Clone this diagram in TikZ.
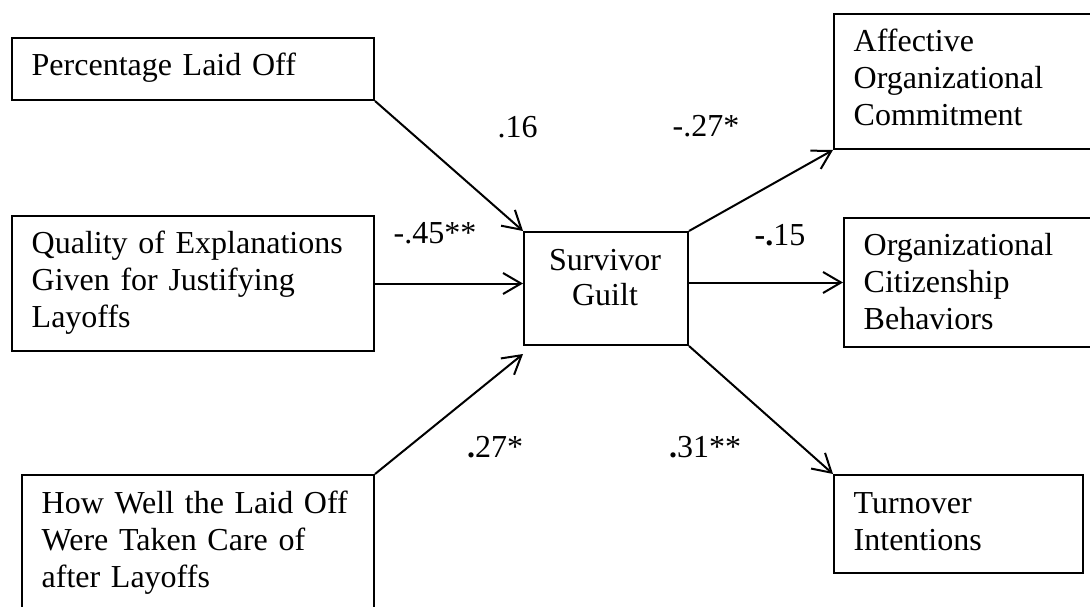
\documentclass[tikz,border=0pt]{standalone}
\usepackage{fontspec}
\setmainfont{Liberation Serif}
\usetikzlibrary{arrows.meta}
\begin{document}
\begin{tikzpicture}[x=1pt,y=-1pt,
  box/.style={draw, line width=2pt, anchor=north west, inner sep=0pt},
  txt/.style={anchor=base west, align=left, inner sep=0pt, text width=#1,
    font=\fontsize{32}{37}\selectfont},
  lab/.style={anchor=base, inner sep=0pt, font=\fontsize{32}{37}\selectfont},
  conn/.style={line width=2pt, -{Straight Barb[length=18pt,width=21pt,line width=2pt]}}]
\useasboundingbox (0,0) rectangle (1090,607);
\clip (0,0) rectangle (1090,607);

% left boxes
\node[box, minimum width=362pt, minimum height=62pt] (pct) at (11,37) {};
\node[txt=340pt] (pctT) at (31.5,76) {Percentage Laid Off};

\node[box, minimum width=362pt, minimum height=135pt] (qual) at (11,215) {};
\node[txt=340pt] (qualT) at (31.5,253) {Quality of Explanations\\Given for Justifying\\Layoffs};

\node[box, minimum width=352pt, minimum height=160pt] (how) at (21,474) {};
\node[txt=330pt] (howT) at (41.5,513) {How Well the Laid Off\\Were Taken Care of\\after Layoffs};

% centre
\node[box, minimum width=164pt, minimum height=113pt] (surv) at (523,231) {};
\node[lab, align=center] (survT) at (605,270) {Survivor};
\node[lab] (survT2) at (605,305) {Guilt};

% right boxes
\node[box, minimum width=280pt, minimum height=135pt] (aff) at (833,13) {};
\node[txt=240pt] (affT) at (853.5,52) {Affective\\Organizational\\Commitment};

\node[box, minimum width=270pt, minimum height=129pt] (ocb) at (843,217) {};
\node[txt=230pt] (ocbT) at (863.5,255) {Organizational\\Citizenship\\Behaviors};

\node[box, minimum width=249pt, minimum height=98pt] (turn) at (833,474) {};
\node[txt=220pt] (turnT) at (853.5,513) {Turnover\\Intentions};

% connectors
\draw[conn] (pct.south east) -- (surv.north west);
\draw[conn] (qual.east) -- (qual.east -| surv.west);
\draw[conn] (how.north east) -- ([yshift=-8pt]surv.south west);
\draw[conn] (surv.north east) -- (aff.south west);
\draw[conn] (ocb.west -| surv.east) -- (ocb.west);
\draw[conn] (surv.south east) -- (turn.north west);

% path coefficients
\node[lab] (c1) at (517.5,138) {.16};
\node[lab] (c2) at (435,243) {-.45**};
\node[lab] (c3) at (495,457) {\textbf{.}27*};
\node[lab] (c4) at (706,137) {-.27*};
\node[lab] (c5) at (780,245) {\textbf{-.}15};
\node[lab] (c6) at (705,457) {\textbf{.}31**};
\end{tikzpicture}
\end{document}
